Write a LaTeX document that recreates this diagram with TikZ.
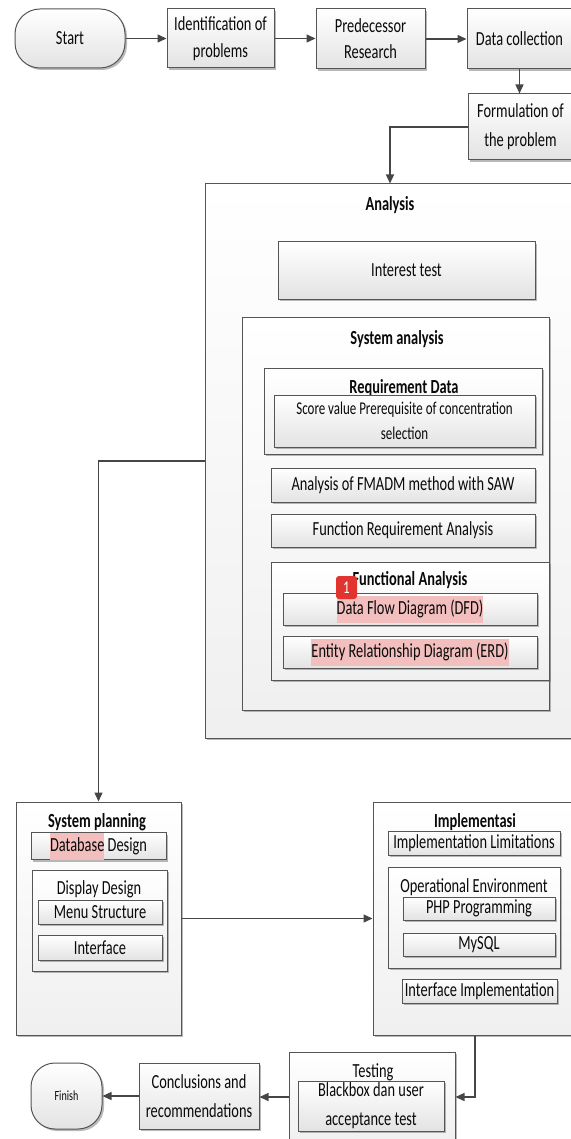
\documentclass[tikz,border=0pt]{standalone}
\usepackage{fontspec}
\setmainfont{Carlito}[FakeStretch=0.72]
\usetikzlibrary{shadows,arrows.meta,positioning}
\definecolor{bordc}{RGB}{85,85,85}
\definecolor{linec}{RGB}{70,70,70}
\definecolor{txtc}{RGB}{10,10,10}
\definecolor{hl}{RGB}{243,190,190}
\definecolor{badgec}{RGB}{226,52,46}
\newcommand\fsz[2]{\fontsize{#1}{#2}\selectfont}
\newcommand\hlt[1]{{\setlength\fboxsep{0pt}\colorbox{hl}{\strut #1}}}
\tikzset{
  box/.style={draw=bordc, line width=1pt, top color=white, bottom color=gray!22,
    drop shadow={shadow xshift=2pt, shadow yshift=-2pt, fill=black!55, opacity=.5},
    inner sep=0pt, align=center, text=txtc, font=\fsz{20}{27}},
  cont/.style={box, bottom color=gray!12},
  ttl/.style={inner sep=0pt, text=txtc, font=\fsz{20}{27}\bfseries},
  ttlr/.style={inner sep=0pt, text=txtc, font=\fsz{20}{27}},
  arr/.style={draw=linec, line width=1.4pt, -{Triangle[length=9pt,width=8pt]}},
}
\begin{document}
\begin{tikzpicture}[x=1pt,y=-1pt]
\useasboundingbox (0,0) rectangle (570,1139);
% top row
\node[box, rounded corners=25pt, minimum width=110pt, minimum height=59pt] (start) at (70,38.5) {Start};
\node[box, minimum width=107pt, minimum height=59pt] (ident) at (220.5,38.5) {Identification of\\problems};
\node[box, minimum width=109pt, minimum height=60pt, font=\fsz{20}{26}] (pred) at (370.5,39) {Predecessor\\Research};
\node[box, minimum width=105pt, minimum height=60pt] (datac) at (519.5,39) {Data collection};
\node[box, minimum width=105pt, minimum height=66pt, font=\fsz{20}{29}] (form) at (520.5,127) {Formulation of\\the problem};
\draw[arr] (start.east) -- (ident.west);
\draw[arr] (ident.east) -- (ident.east -| pred.west);
\draw[arr] (pred.east) -- (pred.east -| datac.west);
\draw[arr] (datac.south) -- (datac.south |- form.north);
% analysis
\node[cont, minimum width=370pt, minimum height=554pt] (analysis) at (390,461) {};
\node[ttl] (analysisT) at (390,205) {Analysis};
\draw[arr] (form.west) -| (analysis.north);
\node[box, minimum width=257pt, minimum height=57pt] (interest) at (406.5,270.5) {Interest test};
\node[cont, minimum width=307pt, minimum height=393pt] (sysan) at (395.5,513.5) {};
\node[ttl] (sysanT) at (397,339) {System analysis};
\node[cont, minimum width=278pt, minimum height=86pt] (reqd) at (403,411) {};
\node[ttl] (reqdT) at (404,388) {Requirement Data};
\node[box, minimum width=261pt, minimum height=52pt, font=\fsz{18}{25}] (score) at (404.5,421) {Score value Prerequisite of concentration\\selection};
\node[box, minimum width=264pt, minimum height=34pt] (fmadm) at (403,485) {Analysis of FMADM method with SAW};
\node[box, minimum width=264pt, minimum height=33pt] (freq) at (403,530.5) {Function Requirement Analysis};
\node[cont, minimum width=278pt, minimum height=118pt] (funca) at (410,621) {};
\node[ttl] (funcaT) at (410,580) {Functional Analysis};
\node[box, minimum width=254pt, minimum height=32pt] (dfd) at (410,609) {\hlt{Data Flow Diagram (DFD)}};
\node[box, minimum width=254pt, minimum height=32pt] (erd) at (410,652) {\hlt{Entity Relationship Diagram (ERD)}};
\node[fill=badgec, rounded corners=3pt, minimum width=21pt, minimum height=23pt, inner sep=0pt, text=white, font=\fsz{18}{18}] (badge) at (346.5,587.5) {1};
% system planning
\node[cont, minimum width=165pt, minimum height=233pt] (sysplan) at (98.5,918.5) {};
\node[ttl] (sysplanT) at (97,822) {System planning};
\draw[arr] (analysis.west) -| (sysplan.north);
\node[box, minimum width=135pt, minimum height=24pt] (dbd) at (98.5,846) {\hlt{Database} Design};
\node[cont, minimum width=135pt, minimum height=101pt] (dispd) at (99.5,920.5) {};
\node[ttlr] (dispdT) at (99,889) {Display Design};
\node[box, minimum width=124pt, minimum height=24pt] (menu) at (100,912) {Menu Structure};
\node[box, minimum width=124pt, minimum height=25pt] (iface) at (100,947.5) {Interface};
% implementation
\node[cont, minimum width=204pt, minimum height=233pt] (impl) at (475,918.5) {};
\node[ttl] (implT) at (475,822) {Implementasi};
\draw[arr] (sysplan.east) -- (impl.west);
\node[box, minimum width=172pt, minimum height=24pt] (impllim) at (474,843) {Implementation Limitations};
\node[cont, minimum width=172pt, minimum height=101pt] (openv) at (474,917.5) {};
\node[ttlr] (openvT) at (474,887) {Operational Environment};
\node[box, minimum width=152pt, minimum height=23pt] (php) at (479,908.5) {PHP Programming};
\node[box, minimum width=152pt, minimum height=23pt] (mysql) at (479,944.5) {MySQL};
\node[box, minimum width=155pt, minimum height=24pt] (iimpl) at (479.5,991) {Interface Implementation};
% bottom row
\node[cont, minimum width=166pt, minimum height=90pt] (testing) at (372,1097) {};
\node[ttlr] (testingT) at (373,1072) {Testing};
\node[box, minimum width=146pt, minimum height=50pt, font=\fsz{20}{29}] (blackbox) at (371,1106) {Blackbox dan user\\acceptance test};
\draw[arr] (impl.south) |- (testing.east);
\node[box, minimum width=120pt, minimum height=66pt, font=\fsz{20}{29}] (concl) at (199,1096) {Conclusions and\\recommendations};
\node[box, rounded corners=24pt, minimum width=71pt, minimum height=66pt, font=\fsz{14}{16}] (finish) at (66.5,1096) {Finish};
\draw[arr] (testing.west) -- (testing.west -| concl.east);
\draw[arr] (concl.west) -- (finish.east);
\end{tikzpicture}
\end{document}
